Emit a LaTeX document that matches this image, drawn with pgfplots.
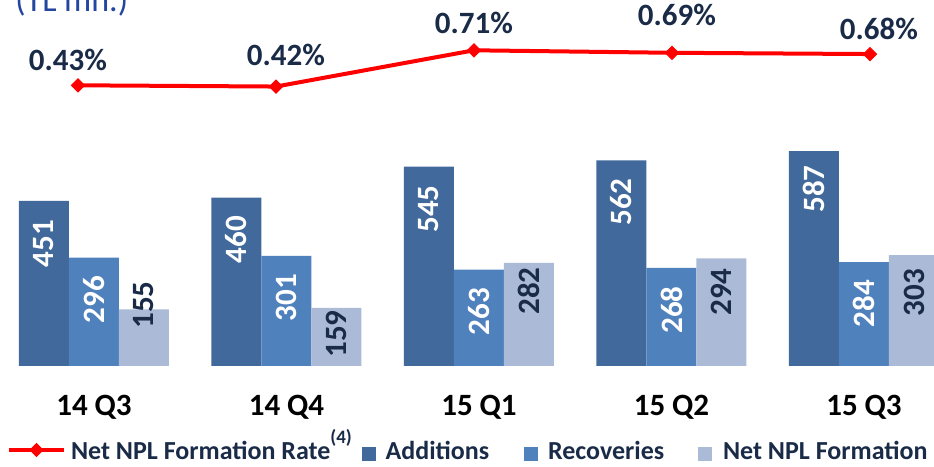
\documentclass[border=0pt]{standalone}
\usepackage{fontspec}
\setmainfont{Carlito}
\usepackage{pgfplots}
\pgfplotsset{compat=1.18}
\definecolor{addc}{RGB}{65,105,155}
\definecolor{recc}{RGB}{79,129,189}
\definecolor{netc}{RGB}{170,186,215}
\definecolor{navy}{RGB}{26,43,72}
\definecolor{tlblue}{RGB}{36,70,160}
\newcommand{\lblfont}{\fontsize{15.5}{18}\selectfont\bfseries}
\pgfplotsset{linelegend/.style={legend image code/.code={\draw[mark repeat=2,mark phase=2,##1, yshift=5pt] plot coordinates {(0pt,0pt) (13.75pt,0pt) (27.5pt,0pt)};}}}
\begin{document}
\begin{tikzpicture}
% ---------- bars ----------
\begin{axis}[
  at={(0pt,50.5pt)}, anchor=south west,
  scale only axis, width=467pt, height=183pt,
  xmin=-0.48831, xmax=4.36364, ymin=0, ymax=1000,
  axis line style={draw=none}, tick style={draw=none},
  ytick=\empty,
  xtick={0,1,2,3,4},
  xticklabels={14 Q3,14 Q4,15 Q1,15 Q2,15 Q3},
  xticklabel style={font=\lblfont, text=black, anchor=base, yshift=-24.5pt},
]
\addplot[ybar, bar width=25pt, bar shift=-25pt, fill=addc, draw=none]
  coordinates {(0,451) (1,460) (2,545) (3,562) (4,587)};
\addplot[ybar, bar width=25pt, bar shift=0pt, fill=recc, draw=none]
  coordinates {(0,296) (1,301) (2,263) (3,268) (4,284)};
\addplot[ybar, bar width=25pt, bar shift=25pt, fill=netc, draw=none]
  coordinates {(0,155) (1,159) (2,282) (3,294) (4,303)};
% value labels
\addplot[draw=none, mark=none, nodes near coords, point meta=explicit symbolic,
  every node near coord/.append style={rotate=90, anchor=center, text=white, font=\lblfont}]
  table[meta=l] {
x y l
-0.25974 334.7 451
0.74026 345.6 460
1.74026 429.0 545
2.74026 448.0 562
3.74026 483.6 587
};
\addplot[draw=none, mark=none, nodes near coords, point meta=explicit symbolic,
  every node near coord/.append style={rotate=90, anchor=center, text=white, font=\lblfont}]
  table[meta=l] {
x y l
0 181.7 296
1 187.2 301
2 148.9 263
3 153.0 268
4 170.8 284
};
\addplot[draw=none, mark=none, nodes near coords, point meta=explicit symbolic,
  every node near coord/.append style={rotate=90, anchor=center, text=navy, font=\lblfont}]
  table[meta=l] {
x y l
0.25974 166.7 155
1.25974 87.4 159
2.25974 204.9 282
3.25974 202.2 294
4.25974 200.8 303
};
\end{axis}
% ---------- line ----------
\begin{axis}[
  at={(0pt,0pt)}, anchor=south west,
  scale only axis, width=467pt, height=233.5pt,
  xmin=-0.39394, xmax=4.32323, ymin=-2.6236, ymax=1.1124,
  hide axis, clip=false,
  legend columns=4,
  legend style={at={(axis description cs:0.0075,0.0086)}, anchor=south west,
    draw=none, fill=none, inner sep=0pt, outer sep=0pt,
    font=\fontsize{13}{15}\selectfont\bfseries, text=navy,
    cells={anchor=base west}, nodes={inner sep=0pt},
    /tikz/column 1/.style={column sep=2.5pt},
    /tikz/column 2/.style={column sep=5pt},
    /tikz/column 3/.style={column sep=5pt},
    /tikz/column 4/.style={column sep=17.5pt},
    /tikz/column 5/.style={column sep=5pt},
    /tikz/column 6/.style={column sep=17pt},
    /tikz/column 7/.style={column sep=5.5pt},
  },
]
\addplot[red, line width=2pt, mark=square*, mark size=2.3pt,
  mark options={rotate=45, fill=red, draw=red, line width=0.5pt},
  nodes near coords={\pgfplotspointmeta\%}, point meta=explicit symbolic,
  visualization depends on={\thisrow{dx}\as\dx},
  visualization depends on={\thisrow{dy}\as\dy},
  every node near coord/.append style={anchor=center, xshift=\dx pt, yshift=\dy pt,
    text=navy, font=\lblfont},
  linelegend,
  ] table[meta=l] {
x y l dx dy
0 0.43 0.43 -5 12.65
1 0.42 0.42 5 15.8
2 0.71 0.71 0 13.6
3 0.69 0.69 2.5 18.9
4 0.68 0.68 4.5 12.5
};
\addlegendentry{Net NPL Formation Rate\raisebox{8.3pt}{\fontsize{9.5}{11}\selectfont (4)}}
\addlegendimage{legend image code/.code={\fill[addc] (0pt,0pt) rectangle (6.5pt,6.5pt);}}
\addlegendentry{Additions}
\addlegendimage{legend image code/.code={\fill[recc] (0pt,0pt) rectangle (6.5pt,6.5pt);}}
\addlegendentry{Recoveries}
\addlegendimage{legend image code/.code={\fill[netc] (0pt,0pt) rectangle (6.5pt,6.5pt);}}
\addlegendentry{Net NPL Formation}
\end{axis}
\node[anchor=base west, text=tlblue, font=\fontsize{17}{20}\selectfont, inner sep=0pt] at (7.5pt,227.75pt) {(TL mn.)};
\pgfresetboundingbox
\path[use as bounding box] (0pt,0pt) rectangle (467pt,233.5pt);
\end{tikzpicture}
\end{document}
